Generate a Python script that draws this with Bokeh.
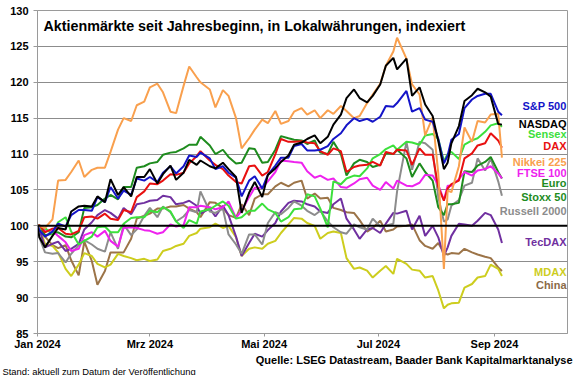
from datetime import datetime
import pandas as pd
from bokeh.plotting import figure
from bokeh.models import Range1d, FixedTicker, Label, Span, Title
from bokeh.embed import file_html
from bokeh.resources import INLINE

# ---------------- data ----------------
DATES = ["2024-01-01", "2024-01-02", "2024-01-05", "2024-01-09", "2024-01-12", "2024-01-16", "2024-01-19", "2024-01-23", "2024-01-26", "2024-01-30",
         "2024-02-02", "2024-02-06", "2024-02-09", "2024-02-13", "2024-02-16", "2024-02-20", "2024-02-23", "2024-02-27",
         "2024-03-01", "2024-03-05", "2024-03-08", "2024-03-12", "2024-03-15", "2024-03-19", "2024-03-22", "2024-03-26", "2024-03-28",
         "2024-04-02", "2024-04-05", "2024-04-09", "2024-04-12", "2024-04-16", "2024-04-19", "2024-04-23", "2024-04-26", "2024-04-30",
         "2024-05-03", "2024-05-07", "2024-05-10", "2024-05-14", "2024-05-17", "2024-05-21", "2024-05-24", "2024-05-28", "2024-05-31",
         "2024-06-04", "2024-06-07", "2024-06-11", "2024-06-14", "2024-06-18", "2024-06-21", "2024-06-25", "2024-06-28",
         "2024-07-02", "2024-07-05", "2024-07-09", "2024-07-11", "2024-07-16", "2024-07-19", "2024-07-23", "2024-07-26", "2024-07-30",
         "2024-08-02", "2024-08-05", "2024-08-07", "2024-08-09", "2024-08-13", "2024-08-16", "2024-08-20", "2024-08-23", "2024-08-27", "2024-08-30",
         "2024-09-03", "2024-09-05"]

SP500 = [100, 99.4, 98.5, 99.2, 100.3, 99.9, 101.5, 102.2, 102.2, 102.1,
         104.0, 103.3, 105.4, 103.8, 104.9, 104.3, 106.6, 106.3,
         106.8, 106.1, 107.4, 108.3, 107.3, 108.3, 109.8, 109.6, 110.2,
         109.4, 107.9, 108.3, 107.4, 106.7, 104.1, 106.3, 106.9, 105.2,
         107.1, 108.4, 109.5, 109.5, 111.1, 111.4, 110.5, 110.5, 110.6,
         111.1, 112.1, 112.9, 114.0, 115.0, 114.6, 114.9, 114.5,
         115.2, 116.7, 116.6, 117.1, 118.8, 115.9, 116.4, 114.8, 114.5,
         112.1, 108.7, 109.8, 112.0, 112.8, 116.4, 117.6, 118.1, 118.4, 118.4,
         115.9, 115.4]

NASDAQ = [100, 98.4, 97.0, 98.6, 99.7, 99.5, 102.0, 102.7, 102.8, 102.7,
          104.1, 103.3, 106.5, 104.3, 105.4, 104.1, 106.8, 106.8,
          107.9, 105.9, 107.2, 108.4, 106.4, 107.4, 109.2, 108.5, 109.1,
          108.3, 108.0, 108.8, 107.9, 106.8, 101.8, 104.6, 106.1, 104.0,
          107.1, 108.0, 108.9, 109.8, 111.3, 111.6, 112.1, 112.6, 111.5,
          112.4, 114.1, 115.5, 117.8, 119.0, 117.8, 117.2, 118.1,
          119.7, 122.3, 123.4, 121.8, 123.3, 118.1, 119.3, 116.9, 115.3,
          111.8, 107.9, 108.8, 111.5, 113.9, 117.4, 118.2, 119.1, 118.6, 118.0,
          114.2, 114.1]

SENSEX = [100, 99.5, 99.7, 98.8, 100.5, 101.2, 99.2, 97.4, 97.9, 98.5,
          99.8, 99.9, 99.1, 99.1, 100.3, 101.1, 101.2, 101.2,
          102.1, 101.9, 102.6, 102.0, 100.6, 99.7, 100.8, 100.3, 102.0,
          102.3, 102.8, 103.4, 102.8, 101.0, 101.2, 102.1, 102.1, 103.1,
          102.3, 101.8, 100.6, 101.2, 102.3, 102.4, 104.4, 104.1, 102.4,
          99.8, 106.2, 105.8, 106.6, 107.0, 106.9, 108.0, 109.4,
          110.0, 110.7, 111.2, 110.6, 111.7, 111.6, 111.3, 112.6, 112.8,
          112.1, 109.0, 110.0, 110.3, 109.3, 111.3, 111.9, 112.2, 113.1, 114.0,
          114.3, 113.8]

DAX = [100, 100.1, 99.1, 99.6, 99.7, 98.9, 98.8, 99.3, 101.2, 101.3,
       101.0, 101.7, 101.0, 100.8, 102.2, 101.9, 104.0, 104.8,
       105.9, 105.8, 106.3, 107.2, 107.1, 107.4, 108.7, 109.7, 110.4,
       109.1, 108.5, 107.9, 107.0, 106.1, 105.9, 108.3, 108.4, 107.0,
       107.5, 110.0, 112.1, 111.7, 111.7, 111.8, 111.6, 111.5, 110.4,
       109.9, 110.8, 110.4, 107.5, 108.2, 108.4, 108.5, 108.9,
       108.4, 110.3, 110.0, 110.6, 110.5, 108.5, 110.8, 109.9, 109.9,
       105.4, 103.5, 105.2, 105.8, 106.3, 109.4, 110.1, 111.2, 111.5, 112.9,
       111.9, 110.9]

NIKKEI = [100, 100.0, 99.7, 100.9, 106.3, 106.4, 107.5, 109.1, 106.8, 107.8,
          108.1, 108.1, 110.3, 113.4, 115.0, 114.6, 116.8, 117.3,
          119.3, 119.8, 118.6, 115.9, 115.7, 119.5, 122.2, 120.7, 120.0,
          119.0, 116.5, 118.9, 118.1, 115.0, 110.8, 112.2, 113.4, 114.8,
          114.3, 116.0, 114.2, 114.6, 115.9, 116.4, 115.5, 116.1, 115.0,
          116.1, 115.6, 116.7, 116.0, 115.0, 115.3, 117.1, 118.3,
          119.8, 122.3, 124.3, 126.2, 123.3, 119.7, 118.3, 112.6, 115.1,
          107.3, 94.0, 104.9, 104.7, 108.3, 113.7, 111.7, 114.6, 114.4, 115.5,
          115.6, 109.5]

FTSE = [100, 99.8, 99.4, 99.3, 98.6, 97.7, 96.5, 96.8, 98.7, 99.1,
        98.5, 99.3, 97.9, 97.1, 99.7, 99.8, 99.7, 99.4,
        99.3, 98.9, 99.1, 100.2, 99.9, 100.1, 102.6, 102.6, 102.8,
        102.6, 102.3, 102.6, 103.4, 101.1, 102.1, 104.0, 105.3, 105.3,
        106.2, 107.5, 109.1, 109.0, 108.9, 108.8, 107.6, 106.7, 107.0,
        106.4, 106.6, 105.4, 105.3, 105.9, 106.5, 106.7, 105.6,
        105.0, 106.1, 105.2, 106.3, 105.6, 105.5, 106.0, 107.1, 107.0,
        105.7, 103.6, 105.6, 105.6, 106.5, 107.5, 107.0, 107.7, 107.9, 108.3,
        107.3, 106.6]

STOXX50 = [100, 100.1, 98.7, 98.9, 99.1, 98.5, 98.4, 99.1, 102.5, 102.6,
           102.9, 103.8, 104.3, 103.7, 105.4, 105.4, 108.1, 108.3,
           108.7, 108.9, 109.9, 110.2, 110.3, 110.8, 111.3, 111.3, 112.4,
           111.2, 110.0, 110.6, 109.6, 108.7, 108.8, 110.8, 110.7, 108.8,
           108.9, 110.6, 112.5, 112.2, 112.0, 111.9, 111.4, 111.9, 110.2,
           110.0, 111.7, 110.0, 107.0, 108.7, 109.2, 108.9, 108.2,
           108.5, 110.1, 110.0, 110.6, 109.4, 106.8, 108.7, 107.5, 106.3,
           102.6, 101.5, 103.0, 103.0, 103.2, 107.6, 107.5, 108.4, 108.9, 109.6,
           107.5, 106.6]

RUSSELL = [100, 98.4, 96.3, 96.1, 96.2, 94.9, 96.1, 97.3, 98.0, 97.4,
           96.8, 96.4, 99.1, 96.8, 100.2, 98.7, 99.5, 101.4,
           102.5, 101.2, 102.7, 101.9, 100.6, 101.3, 102.2, 101.9, 104.8,
           102.0, 101.8, 102.4, 98.8, 97.4, 96.1, 98.8, 98.8, 97.4,
           100.4, 101.9, 101.6, 102.5, 103.4, 102.8, 102.1, 101.5, 102.1,
           100.6, 99.8, 99.1, 98.9, 100.2, 99.8, 99.5, 101.0,
           99.9, 100.0, 100.3, 104.8, 111.7, 107.8, 111.7, 111.5, 110.6,
           104.0, 100.6, 100.9, 102.8, 103.6, 105.6, 106.0, 109.4, 107.7, 109.4,
           106.2, 104.2]

TECDAX = [100, 99.5, 97.0, 97.5, 97.8, 96.5, 96.8, 97.5, 99.5, 100.5,
          101.5, 102.2, 101.8, 101.0, 102.5, 101.6, 103.0, 103.2,
          103.5, 103.6, 104.2, 104.0, 103.0, 103.2, 103.5, 102.8, 101.7,
          102.4, 101.3, 102.8, 101.5, 98.5, 95.8, 97.6, 98.9, 98.5,
          99.4, 100.4, 102.0, 103.2, 103.5, 103.4, 103.0, 102.7, 102.0,
          101.8, 103.0, 103.8, 101.0, 99.5, 98.2, 99.5, 99.7,
          99.0, 100.3, 101.8, 101.7, 102.1, 99.5, 101.4, 98.6, 100.0,
          98.4, 95.8, 97.0, 98.6, 100.3, 100.2, 100.0, 100.7, 101.8, 101.5,
          99.5, 97.6]

MDAX = [100, 99.8, 97.5, 97.2, 96.3, 94.0, 93.0, 94.6, 96.2, 95.8,
        94.7, 94.2, 94.6, 96.1, 95.8, 95.5, 95.2, 95.4,
        95.1, 95.3, 96.5, 96.8, 97.2, 97.5, 98.6, 99.0, 99.6,
        99.8, 100.3, 99.7, 100.0, 98.4, 95.8, 96.8, 97.0, 96.8,
        97.5, 97.9, 99.0, 100.2, 101.1, 101.0, 100.4, 100.0, 98.2,
        99.0, 99.2, 99.0, 95.5, 94.0, 94.2, 93.75, 92.8,
        93.75, 94.4, 93.3, 95.4, 94.7, 93.9, 93.75, 92.8, 93.0,
        91.0, 88.5, 89.0, 89.2, 89.3, 91.4, 91.9, 92.8, 93.0, 94.6,
        94.0, 93.0]

CHINA = [100, 99.6, 98.5, 97.3, 96.9, 97.3, 95.2, 93.1, 97.8, 95.1,
         91.8, 93.7, 96.3, 96.3, 96.3, 98.2, 101.0, 101.4,
         101.7, 102.4, 102.4, 102.7, 102.7, 102.9, 102.4, 101.9, 101.2,
         103.3, 103.2, 102.5, 101.5, 101.1, 103.0, 101.5, 103.8, 104.4,
         104.4, 105.5, 106.0, 105.5, 106.0, 106.3, 103.8, 104.5, 103.8,
         103.9, 102.5, 102.2, 101.9, 101.8, 100.8, 99.2, 99.7,
         100.7, 99.2, 99.5, 99.9, 100.0, 100.2, 98.0, 97.2, 96.8,
         97.6, 96.2, 96.0, 96.2, 96.1, 96.8, 96.3, 96.0, 95.7, 95.5,
         94.2, 93.7]

SERIES_NAMES = ["China", "MDAX", "TecDAX", "Russell 2000", "Euro Stoxx 50", "FTSE 100",
                "Sensex", "DAX", "Nikkei 225", "S&P 500", "NASDAQ"]
SERIES_VALUES = [CHINA, MDAX, TECDAX, RUSSELL, STOXX50, FTSE, SENSEX, DAX, NIKKEI, SP500, NASDAQ]
SERIES_COLORS = ["#9C7448", "#CDCD1E", "#7030A0", "#8C8C8C", "#1E8C1E", "#EE22EE",
                 "#3CE03C", "#E81010", "#F9A04E", "#1414C8", "#000000"]

Y_TICKS = [85, 90, 95, 100, 105, 110, 115, 120, 125, 130]
X_TICK_DATES = ["2024-01-01", "2024-03-01", "2024-05-01", "2024-07-01", "2024-09-01"]
X_TICK_LABELS = ["Jan 2024", "Mrz 2024", "Mai 2024", "Jul 2024", "Sep 2024"]

# legend labels at the right (text, colour, vertical position in index points)
LEGEND = [("S&P 500", "#1414C8", 116.7), ("NASDAQ", "#000000", 114.2), ("Sensex", "#3CE03C", 112.8),
          ("DAX", "#E81010", 111.1), ("Nikkei 225", "#F9A04E", 108.9), ("FTSE 100", "#EE22EE", 107.4),
          ("Euro", "#1E8C1E", 106.0), ("Stoxx 50", "#1E8C1E", 104.0), ("Russell 2000", "#8C8C8C", 102.1),
          ("TecDAX", "#7030A0", 97.8), ("MDAX", "#CDCD1E", 93.5), ("China", "#8B6B48", 91.8)]

TITLE = "Aktienmärkte seit Jahresbeginn, in Lokalwährungen, indexiert"
SOURCE = "Quelle: LSEG Datastream, Baader Bank Kapitalmarktanalyse"
STAND = "Stand: aktuell zum Datum der Veröffentlichung"

# ---------------- figure ----------------
FONT = "Liberation Sans"
x = pd.to_datetime(DATES)
x_start = datetime(2024, 1, 1)
x_end = datetime(2024, 10, 10)

p = figure(width=580, height=375, x_axis_type="datetime", output_backend="svg", toolbar_location=None,
           x_range=Range1d(x_start, x_end), y_range=Range1d(85, 130),
           min_border_left=37, min_border_right=13, min_border_top=10, min_border_bottom=42)
p.background_fill_color = "white"
p.border_fill_color = "white"
p.outline_line_color = "#9a9a9a"
p.outline_line_width = 1

for vals, col in zip(SERIES_VALUES, SERIES_COLORS):
    p.line(x, vals, line_color=col, line_width=2)

p.add_layout(Span(location=100, dimension="width", line_color="black", line_width=2))

# axes
tick_ms = [int(pd.Timestamp(d).value // 10**6) for d in X_TICK_DATES]
p.xaxis.ticker = FixedTicker(ticks=tick_ms)
p.xaxis.major_label_overrides = {t: lab for t, lab in zip(tick_ms, X_TICK_LABELS)}
p.yaxis.ticker = FixedTicker(ticks=Y_TICKS)
for ax in (p.xaxis, p.yaxis):
    ax.major_label_text_font = FONT
    ax.major_label_text_font_style = "bold"
    ax.major_label_text_font_size = "11px"
    ax.major_label_text_color = "black"
    ax.axis_line_color = "#9a9a9a"
    ax.major_tick_line_color = "#9a9a9a"
    ax.minor_tick_line_color = None
    ax.major_tick_in = 0
p.xaxis.major_tick_out = 3
p.yaxis.major_tick_out = 4
p.xaxis.major_label_standoff = 1
p.yaxis.major_label_standoff = 5
p.xgrid.grid_line_color = None
p.ygrid.grid_line_color = "#8c8c8c"
p.ygrid.grid_line_width = 1

# title inside the plot area
p.add_layout(Label(x=x_start, y=130, x_offset=6, y_offset=-15, text=TITLE,
                   text_font=FONT, text_font_style="bold", text_font_size="14.3px", text_color="black",
                   text_baseline="alphabetic", text_align="left"))

# legend labels
for name, col, yv in LEGEND:
    p.add_layout(Label(x=x_end, y=yv, x_offset=-1, text=name, text_font=FONT, text_font_style="bold",
                       text_font_size="11px", text_color=col, text_align="right", text_baseline="middle"))

# footer texts below the x axis
p.add_layout(Title(text=SOURCE, align="right", offset=-5, standoff=-2, text_font=FONT,
                   text_font_style="bold", text_font_size="11px", text_color="black"), "below")
p.add_layout(Title(text=STAND, align="left", offset=-35, standoff=-2, text_font=FONT,
                   text_font_style="normal", text_font_size="9.4px", text_color="black"), "below")

open("out.html", "w").write(file_html(p, INLINE))
